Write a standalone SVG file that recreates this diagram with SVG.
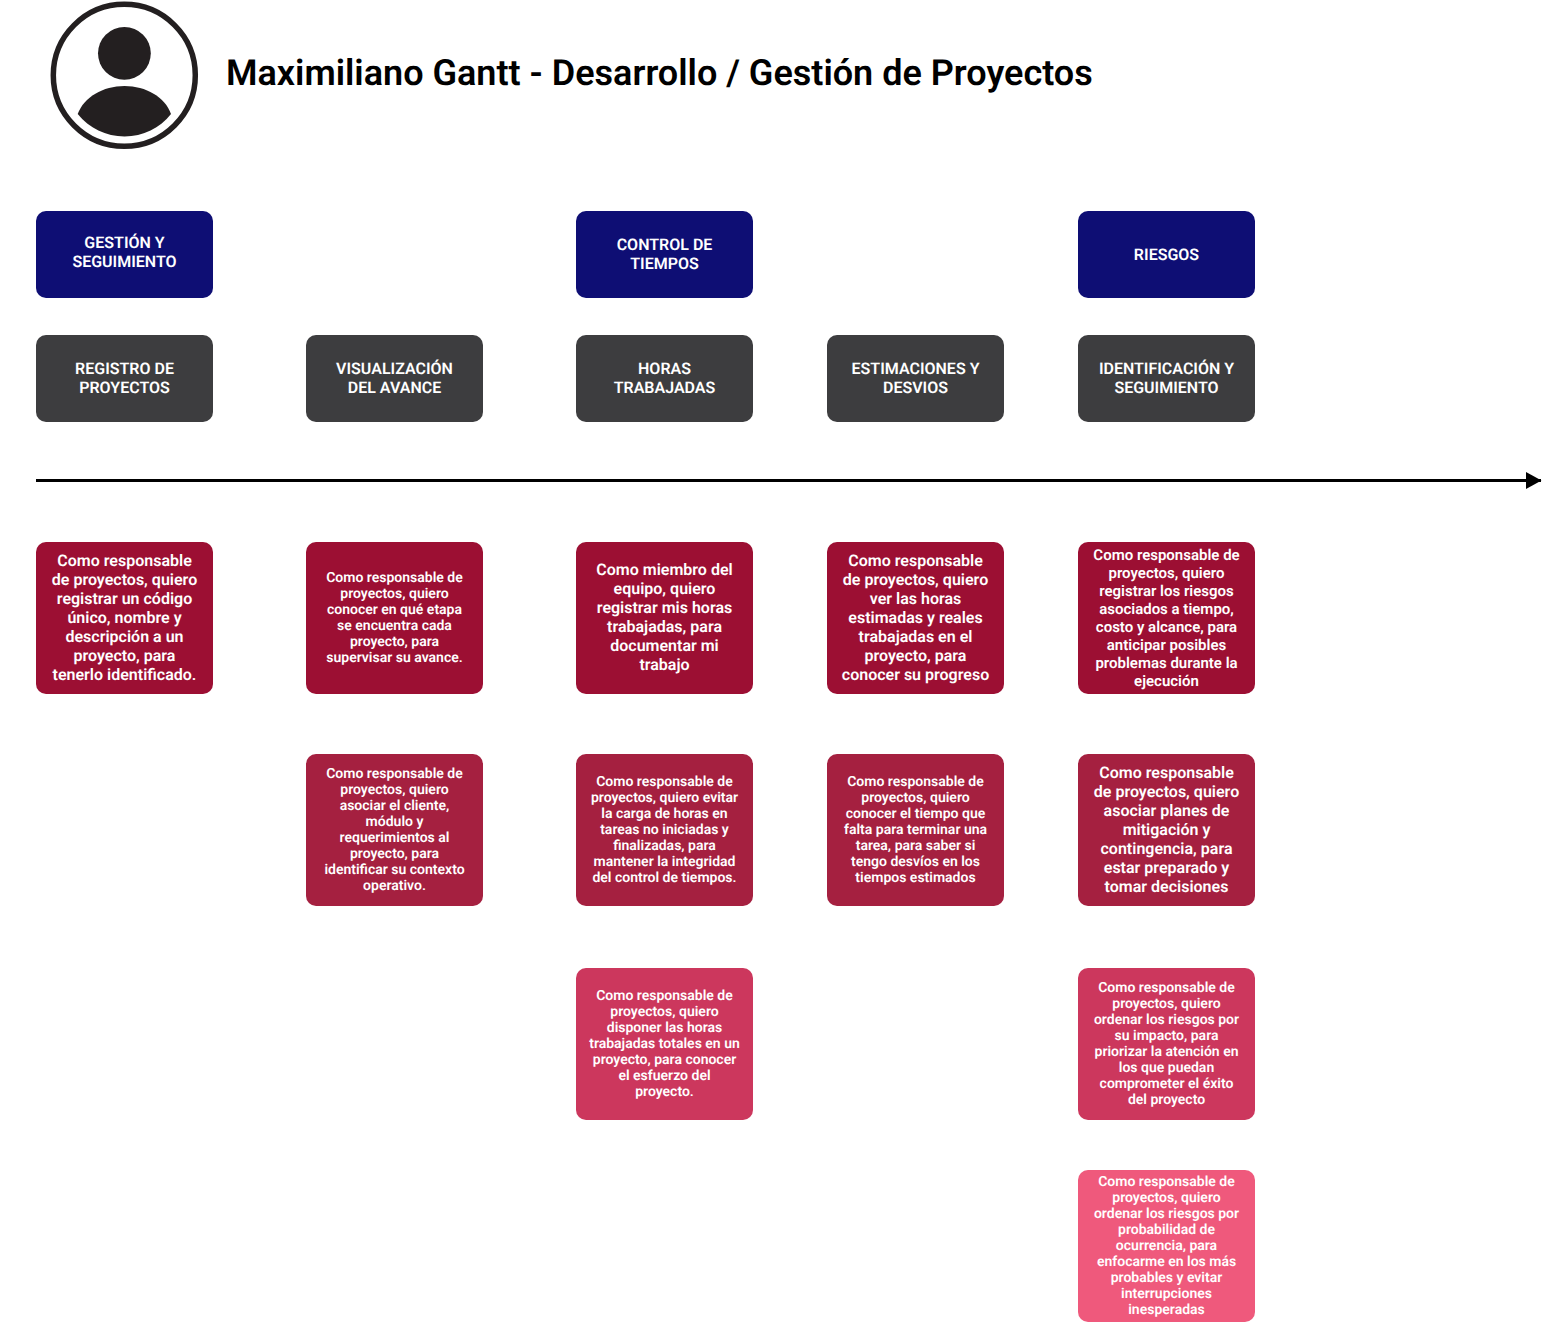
<svg xmlns="http://www.w3.org/2000/svg" width="1542" height="1322" viewBox="0 0 1542 1322">
<style>
text{font-family:Roboto,"Liberation Sans",sans-serif;font-weight:600;fill:#fff;text-anchor:middle;text-rendering:geometricPrecision}
.h{font-size:16px}.a{font-size:16px}.b{font-size:14px}.d{font-size:15px}
.title{font-size:36px;fill:#000;text-anchor:start}
.c1{fill:#9c0f33}.c2{fill:#a52040}.c3{fill:#cc375d}.c4{fill:#ef597c}.n{fill:#0e0e74}.g{fill:#3d3d3f}
</style>
<defs><marker id="arr" markerUnits="userSpaceOnUse" markerWidth="16" markerHeight="18" refX="15" refY="9" orient="auto"><path d="M0 0.500L15.500 9L0 17.500Z" fill="#000"/></marker></defs>
<g id="avatar"><circle cx="124.300" cy="75.300" r="71" fill="#fff" stroke="#231f20" stroke-width="5.500"/><circle cx="124.400" cy="53.300" r="26.400" fill="#231f20"/><path d="M77.700 114C84 97 103 86 124.500 86C146 86 165 97 171 114C160 128 143 136.500 124.500 136.500C106 136.500 89 128 77.700 114Z" fill="#231f20"/></g>
<text class="title" x="226" y="85">Maximiliano Gantt - Desarrollo / Gestión de Proyectos</text>
<g id="connectors"><line x1="36" y1="480.500" x2="1541" y2="480.500" stroke="#000" stroke-width="3" marker-end="url(#arr)"/></g>
<g id="n1"><rect class="n" x="36" y="211" width="177" height="87" rx="10"/><text class="h" x="124.500" y="248">GESTIÓN Y</text><text class="h" x="124.500" y="267">SEGUIMIENTO</text></g>
<g id="n2"><rect class="n" x="576" y="211" width="177" height="87" rx="10"/><text class="h" x="664.500" y="250">CONTROL DE</text><text class="h" x="664.500" y="269">TIEMPOS</text></g>
<g id="n3"><rect class="n" x="1078" y="211" width="177" height="87" rx="10"/><text class="h" x="1166.500" y="260">RIESGOS</text></g>
<g id="n4"><rect class="g" x="36" y="335" width="177" height="87" rx="10"/><text class="h" x="124.500" y="374">REGISTRO DE</text><text class="h" x="124.500" y="393">PROYECTOS</text></g>
<g id="n5"><rect class="g" x="306" y="335" width="177" height="87" rx="10"/><text class="h" x="394.500" y="374">VISUALIZACIÓN</text><text class="h" x="394.500" y="393">DEL AVANCE</text></g>
<g id="n6"><rect class="g" x="576" y="335" width="177" height="87" rx="10"/><text class="h" x="664.500" y="374">HORAS</text><text class="h" x="664.500" y="393">TRABAJADAS</text></g>
<g id="n7"><rect class="g" x="827" y="335" width="177" height="87" rx="10"/><text class="h" x="915.500" y="374">ESTIMACIONES Y</text><text class="h" x="915.500" y="393">DESVIOS</text></g>
<g id="n8"><rect class="g" x="1078" y="335" width="177" height="87" rx="10"/><text class="h" x="1166.500" y="374">IDENTIFICACIÓN Y</text><text class="h" x="1166.500" y="393">SEGUIMIENTO</text></g>
<g id="s1"><rect class="c1" x="36" y="542" width="177" height="152" rx="10"/><text class="a" x="124.500" y="566">Como responsable</text><text class="a" x="124.500" y="585">de proyectos, quiero</text><text class="a" x="124.500" y="604">registrar un código</text><text class="a" x="124.500" y="623">único, nombre y</text><text class="a" x="124.500" y="642">descripción a un</text><text class="a" x="124.500" y="661">proyecto, para</text><text class="a" x="124.500" y="680">tenerlo identificado.</text></g>
<g id="s2"><rect class="c1" x="306" y="542" width="177" height="152" rx="10"/><text class="b" x="394.500" y="582">Como responsable de</text><text class="b" x="394.500" y="598">proyectos, quiero</text><text class="b" x="394.500" y="614">conocer en qué etapa</text><text class="b" x="394.500" y="630">se encuentra cada</text><text class="b" x="394.500" y="646">proyecto, para</text><text class="b" x="394.500" y="662">supervisar su avance.</text></g>
<g id="s3"><rect class="c1" x="576" y="542" width="177" height="152" rx="10"/><text class="a" x="664.500" y="575">Como miembro del</text><text class="a" x="664.500" y="594">equipo, quiero</text><text class="a" x="664.500" y="613">registrar mis horas</text><text class="a" x="664.500" y="632">trabajadas, para</text><text class="a" x="664.500" y="651">documentar mi</text><text class="a" x="664.500" y="670">trabajo</text></g>
<g id="s4"><rect class="c1" x="827" y="542" width="177" height="152" rx="10"/><text class="a" x="915.500" y="566">Como responsable</text><text class="a" x="915.500" y="585">de proyectos, quiero</text><text class="a" x="915.500" y="604">ver las horas</text><text class="a" x="915.500" y="623">estimadas y reales</text><text class="a" x="915.500" y="642">trabajadas en el</text><text class="a" x="915.500" y="661">proyecto, para</text><text class="a" x="915.500" y="680">conocer su progreso</text></g>
<g id="s5"><rect class="c1" x="1078" y="542" width="177" height="152" rx="10"/><text class="d" x="1166.500" y="560">Como responsable de</text><text class="d" x="1166.500" y="578">proyectos, quiero</text><text class="d" x="1166.500" y="596">registrar los riesgos</text><text class="d" x="1166.500" y="614">asociados a tiempo,</text><text class="d" x="1166.500" y="632">costo y alcance, para</text><text class="d" x="1166.500" y="650">anticipar posibles</text><text class="d" x="1166.500" y="668">problemas durante la</text><text class="d" x="1166.500" y="686">ejecución</text></g>
<g id="s6"><rect class="c2" x="306" y="754" width="177" height="152" rx="10"/><text class="b" x="394.500" y="778">Como responsable de</text><text class="b" x="394.500" y="794">proyectos, quiero</text><text class="b" x="394.500" y="810">asociar el cliente,</text><text class="b" x="394.500" y="826">módulo y</text><text class="b" x="394.500" y="842">requerimientos al</text><text class="b" x="394.500" y="858">proyecto, para</text><text class="b" x="394.500" y="874">identificar su contexto</text><text class="b" x="394.500" y="890">operativo.</text></g>
<g id="s7"><rect class="c2" x="576" y="754" width="177" height="152" rx="10"/><text class="b" x="664.500" y="786">Como responsable de</text><text class="b" x="664.500" y="802">proyectos, quiero evitar</text><text class="b" x="664.500" y="818">la carga de horas en</text><text class="b" x="664.500" y="834">tareas no iniciadas y</text><text class="b" x="664.500" y="850">finalizadas, para</text><text class="b" x="664.500" y="866">mantener la integridad</text><text class="b" x="664.500" y="882">del control de tiempos.</text></g>
<g id="s8"><rect class="c2" x="827" y="754" width="177" height="152" rx="10"/><text class="b" x="915.500" y="786">Como responsable de</text><text class="b" x="915.500" y="802">proyectos, quiero</text><text class="b" x="915.500" y="818">conocer el tiempo que</text><text class="b" x="915.500" y="834">falta para terminar una</text><text class="b" x="915.500" y="850">tarea, para saber si</text><text class="b" x="915.500" y="866">tengo desvíos en los</text><text class="b" x="915.500" y="882">tiempos estimados</text></g>
<g id="s9"><rect class="c2" x="1078" y="754" width="177" height="152" rx="10"/><text class="a" x="1166.500" y="778">Como responsable</text><text class="a" x="1166.500" y="797">de proyectos, quiero</text><text class="a" x="1166.500" y="816">asociar planes de</text><text class="a" x="1166.500" y="835">mitigación y</text><text class="a" x="1166.500" y="854">contingencia, para</text><text class="a" x="1166.500" y="873">estar preparado y</text><text class="a" x="1166.500" y="892">tomar decisiones</text></g>
<g id="s10"><rect class="c3" x="576" y="968" width="177" height="152" rx="10"/><text class="b" x="664.500" y="1000">Como responsable de</text><text class="b" x="664.500" y="1016">proyectos, quiero</text><text class="b" x="664.500" y="1032">disponer las horas</text><text class="b" x="664.500" y="1048">trabajadas totales en un</text><text class="b" x="664.500" y="1064">proyecto, para conocer</text><text class="b" x="664.500" y="1080">el esfuerzo del</text><text class="b" x="664.500" y="1096">proyecto.</text></g>
<g id="s11"><rect class="c3" x="1078" y="968" width="177" height="152" rx="10"/><text class="b" x="1166.500" y="992">Como responsable de</text><text class="b" x="1166.500" y="1008">proyectos, quiero</text><text class="b" x="1166.500" y="1024">ordenar los riesgos por</text><text class="b" x="1166.500" y="1040">su impacto, para</text><text class="b" x="1166.500" y="1056">priorizar la atención en</text><text class="b" x="1166.500" y="1072">los que puedan</text><text class="b" x="1166.500" y="1088">comprometer el éxito</text><text class="b" x="1166.500" y="1104">del proyecto</text></g>
<g id="s12"><rect class="c4" x="1078" y="1170" width="177" height="152" rx="10"/><text class="b" x="1166.500" y="1186">Como responsable de</text><text class="b" x="1166.500" y="1202">proyectos, quiero</text><text class="b" x="1166.500" y="1218">ordenar los riesgos por</text><text class="b" x="1166.500" y="1234">probabilidad de</text><text class="b" x="1166.500" y="1250">ocurrencia, para</text><text class="b" x="1166.500" y="1266">enfocarme en los más</text><text class="b" x="1166.500" y="1282">probables y evitar</text><text class="b" x="1166.500" y="1298">interrupciones</text><text class="b" x="1166.500" y="1314">inesperadas</text></g>
</svg>
